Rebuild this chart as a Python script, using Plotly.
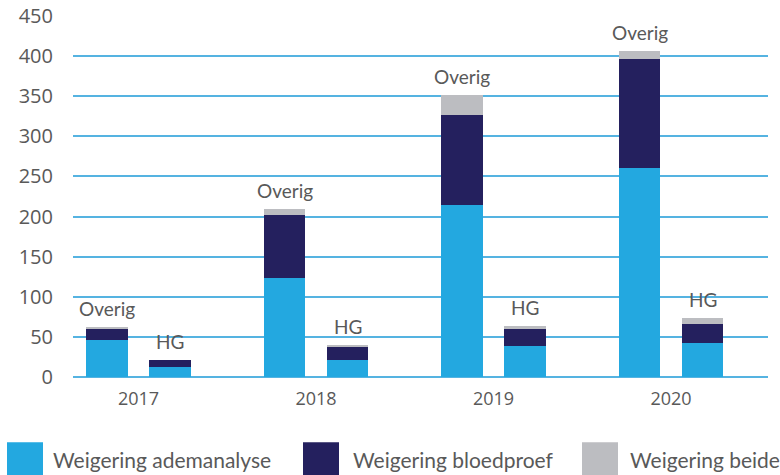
import plotly.graph_objects as go

# ---- data ----
years = ["2017", "2018", "2019", "2020"]
series_names = ["Weigering ademanalyse", "Weigering bloedproef", "Weigering beide"]
group_labels = ["Overig", "HG"]

overig_adem = [46, 123, 214, 260]
overig_bloed = [14, 79, 113, 137]
overig_beide = [2, 7, 24, 10]

hg_adem = [13, 21, 39, 42]
hg_bloed = [8, 16, 21, 24]
hg_beide = [0, 3, 3, 7]

y_ticks = [0, 50, 100, 150, 200, 250, 300, 350, 400, 450]

# ---- style ----
colors = ["#23A8E0", "#24205E", "#BCBDC1"]
grid_color = "#55B3E1"
text_color = "#595959"
FONT = "Lato"
OFFSET = 0.1775
BAR_W = 0.232

idx = list(range(len(years)))
groups = [
    (group_labels[0], [i - OFFSET for i in idx], [overig_adem, overig_bloed, overig_beide]),
    (group_labels[1], [i + OFFSET for i in idx], [hg_adem, hg_bloed, hg_beide]),
]

fig = go.Figure()
for gname, xs, vals in groups:
    for k, v in enumerate(vals):
        fig.add_trace(go.Bar(
            x=xs, y=v, width=BAR_W, name=series_names[k],
            marker=dict(color=colors[k], line=dict(width=0)),
            showlegend=False, hoverinfo="skip",
        ))

annotations = []
for gname, xs, vals in groups:
    totals = [a + b + c for a, b, c in zip(*vals)]
    for x, t in zip(xs, totals):
        annotations.append(dict(
            x=x, y=t, xref="x", yref="y", text=gname, showarrow=False,
            yanchor="bottom", xanchor="center", yshift=5,
            font=dict(family=FONT, size=19, color=text_color),
        ))

# manual legend (pixel -> paper conversion)
L, R, T, B = 73, 768, 16, 376.7
W, H = R - L, B - T
def px(x):
    return (x - L) / W
def py(y):
    return (B - y) / H

shapes = []
sw_x = [7, 303, 582]
tx_x = [51, 351, 628]
for k in range(3):
    shapes.append(dict(type="rect", xref="paper", yref="paper",
                       x0=px(sw_x[k]), x1=px(sw_x[k] + 36), y0=py(442), y1=py(476),
                       fillcolor=colors[k], line=dict(width=0)))
    annotations.append(dict(x=px(tx_x[k]), y=py(459), xref="paper", yref="paper",
                            text=series_names[k], showarrow=False, xanchor="left",
                            yanchor="middle",
                            font=dict(family=FONT, size=21, color=text_color)))

fig.update_layout(
    barmode="stack",
    width=780, height=475,
    margin=dict(l=L, r=780 - R, t=T, b=475 - B, autoexpand=False),
    plot_bgcolor="white", paper_bgcolor="white",
    showlegend=False,
    annotations=annotations,
    shapes=shapes,
    xaxis=dict(
        tickvals=idx, ticktext=years, range=[-0.369, 3.546],
        showgrid=False, zeroline=False, showline=False, ticks="",
        ticklabelstandoff=9, automargin=False,
        tickfont=dict(family="Open Sans", size=18, color=text_color),
        fixedrange=True,
    ),
    yaxis=dict(
        range=[0, 450], tickvals=y_ticks, showgrid=True, gridcolor=grid_color,
        gridwidth=1.5, zeroline=True, zerolinecolor=grid_color, zerolinewidth=1.5,
        showline=False, ticks="", ticklabelstandoff=19, automargin=False,
        tickfont=dict(family="Open Sans", size=20, color=text_color),
        fixedrange=True,
    ),
)

fig.write_html("out.html", config={"displayModeBar": False},
               post_script="document.body.style.margin='0';document.body.style.overflow='hidden';")
